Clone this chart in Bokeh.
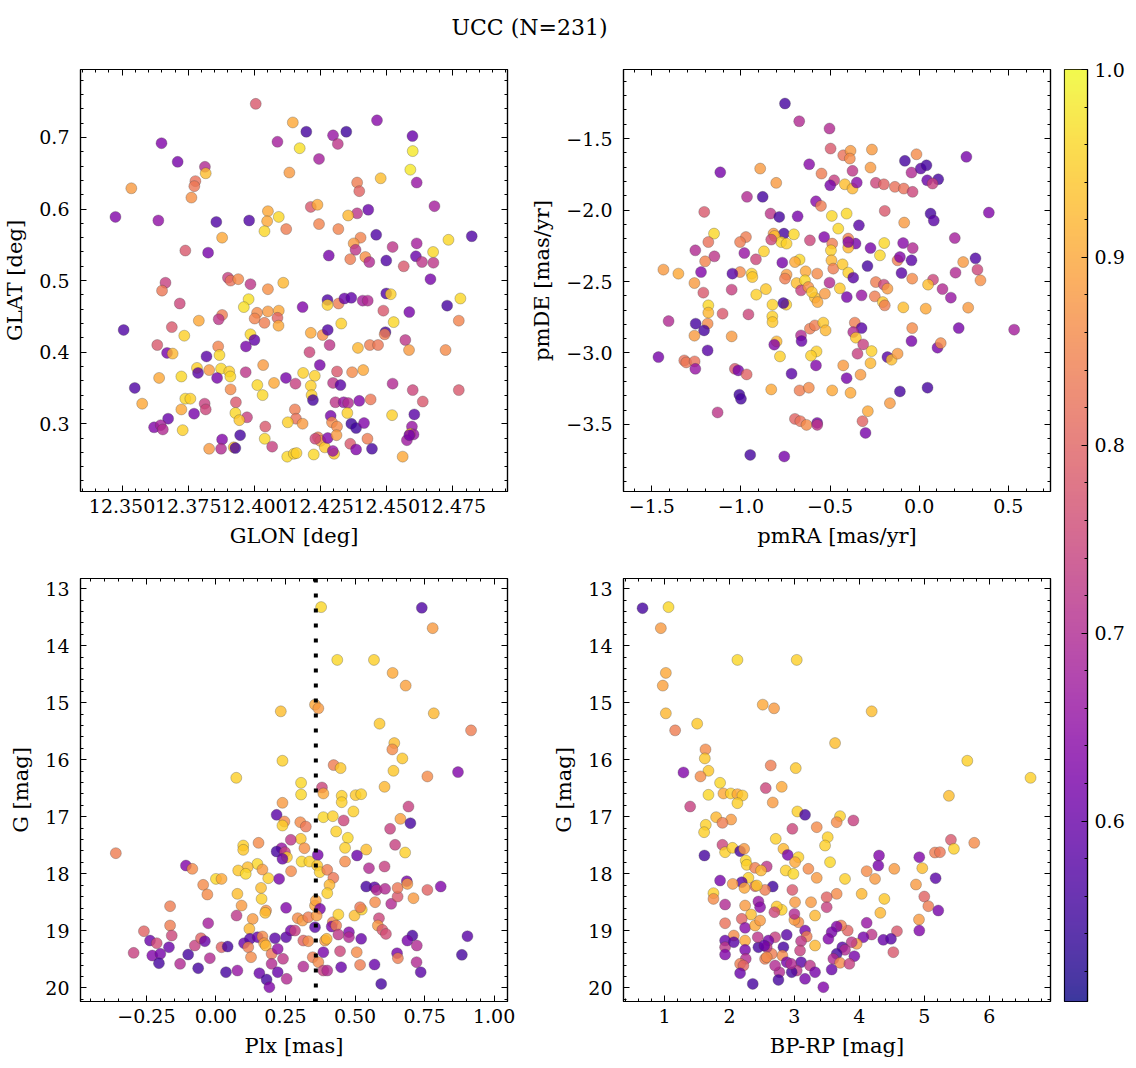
from bokeh.plotting import figure
from bokeh.models import (ColumnDataSource, LinearColorMapper, Range1d, LinearAxis,
                          SingleIntervalTicker, FixedTicker, CustomJSTickFormatter, Span, Label)
from bokeh.layouts import row, column
from bokeh.palettes import Plasma256
from bokeh.embed import file_html
from bokeh.resources import INLINE
import numpy as np

TITLE = "UCC (N=231)"
PLX_LINE = 0.359

# ---------------- panel 1 : GLON / GLAT ----------------
glon = [12.4005,12.4145,12.4463,12.4196,12.4297,12.4347,12.4315,12.4597,12.3649,12.4087,
12.4171,12.4598,12.3710,12.4244,12.3813,12.3816,12.4132,12.4589,12.4477,12.3777,
12.3773,12.3535,12.4613,12.4388,12.4396,12.3762,12.4213,12.4238,12.4680,12.4430,
12.4388,12.4354,12.4051,12.4092,12.4048,12.4038,12.4120,12.4244,12.4317,12.3475,
12.3637,12.3856,12.3980,12.3878,12.4460,12.4401,12.4375,12.4382,12.3739,12.3825,
12.4281,12.4362,12.4419,12.4434,12.4498,12.4522,12.4613,12.4610,12.4633,12.4676,
12.4675,12.4733,12.4821,12.4564,12.4665,12.3900,12.3910,12.3939,12.3664,12.3651,
12.3985,12.4051,12.4109,12.3718,12.3978,12.3960,12.4182,12.4276,12.4276,12.4318,
12.4340,12.4366,12.4409,12.4428,12.4498,12.4515,12.4778,12.4728,12.4487,12.4585,
12.4772,12.4526,12.4010,12.4051,12.4092,12.4001,12.4038,12.4087,12.4091,12.3878,
12.3865,12.3790,12.3506,12.3688,12.3735,12.3985,12.4000,12.3968,12.4213,12.4258,
12.4277,12.4328,12.4495,12.4492,12.4570,12.4284,12.4391,12.4436,12.4467,12.4584,
12.4722,12.3633,12.3670,12.3691,12.3819,12.3863,12.3868,12.4208,12.4247,12.4033,
12.3783,12.3787,12.3829,12.3874,12.3905,12.3909,12.3859,12.3640,12.3724,12.3967,
12.4184,12.4228,12.4119,12.4155,12.4074,12.4011,12.4031,12.3910,12.3548,12.3576,
12.3739,12.3758,12.3724,12.3812,12.3816,12.3772,12.3930,12.3928,12.3972,12.3943,
12.4213,12.4216,12.4221,12.4297,12.4325,12.4312,12.4369,12.4411,12.4522,12.4598,
12.4772,12.4636,12.4604,12.4520,12.4306,12.4337,12.4354,12.4396,12.4439,12.4351,
12.4153,12.4157,12.4126,12.4182,12.4288,12.4293,12.4312,12.4366,12.4384,12.4414,
12.4595,12.4589,12.4601,12.4576,12.3674,12.3621,12.3646,12.3654,12.3729,12.3946,
12.3878,12.4039,12.4041,12.3829,12.3874,12.3922,12.3928,12.4067,12.4124,12.4149,
12.4159,12.4224,12.4240,12.4249,12.4266,12.4277,12.4301,12.4296,12.4310,12.4362,
12.4384,12.4427,12.4444,12.4560,12.4585,12.4230]
glat = [0.747,0.721,0.724,0.708,0.703,0.708,0.691,0.702,0.692,0.694,
0.685,0.681,0.666,0.670,0.659,0.650,0.651,0.655,0.643,0.639,
0.632,0.629,0.637,0.637,0.625,0.616,0.603,0.606,0.604,0.599,
0.594,0.591,0.597,0.589,0.583,0.569,0.572,0.579,0.572,0.589,
0.584,0.582,0.584,0.560,0.564,0.560,0.552,0.543,0.542,0.539,
0.535,0.530,0.533,0.526,0.528,0.547,0.552,0.534,0.526,0.525,
0.540,0.557,0.562,0.520,0.502,0.504,0.500,0.502,0.497,0.486,
0.495,0.488,0.497,0.468,0.474,0.463,0.463,0.473,0.466,0.468,
0.475,0.476,0.472,0.472,0.482,0.481,0.475,0.465,0.458,0.456,
0.444,0.442,0.455,0.457,0.458,0.447,0.441,0.448,0.437,0.452,
0.446,0.444,0.431,0.435,0.423,0.425,0.417,0.408,0.427,0.424,
0.431,0.440,0.428,0.425,0.417,0.410,0.406,0.410,0.410,0.403,
0.403,0.410,0.399,0.398,0.394,0.408,0.396,0.400,0.382,0.382,
0.378,0.371,0.375,0.377,0.373,0.366,0.364,0.364,0.366,0.372,
0.371,0.367,0.364,0.356,0.357,0.354,0.340,0.348,0.350,0.328,
0.335,0.335,0.320,0.328,0.320,0.314,0.330,0.315,0.309,0.305,
0.353,0.340,0.333,0.357,0.354,0.373,0.372,0.375,0.356,0.347,
0.347,0.331,0.313,0.312,0.330,0.330,0.329,0.332,0.334,0.315,
0.320,0.307,0.302,0.300,0.311,0.302,0.296,0.300,0.294,0.301,
0.296,0.286,0.285,0.277,0.307,0.295,0.298,0.292,0.291,0.284,
0.278,0.279,0.296,0.265,0.265,0.267,0.266,0.268,0.254,0.258,
0.259,0.257,0.281,0.276,0.267,0.280,0.258,0.262,0.284,0.272,
0.264,0.279,0.265,0.254,0.284,0.279]
prob1 = [0.78,0.90,0.64,0.56,0.66,0.55,0.72,0.60,0.63,0.68,
0.97,0.98,0.62,0.68,0.70,0.93,0.88,0.98,0.93,0.82,
0.83,0.88,0.66,0.84,0.80,0.87,0.78,0.90,0.68,0.60,
0.72,0.92,0.90,0.96,0.90,0.96,0.84,0.85,0.85,0.63,
0.65,0.57,0.57,0.90,0.57,0.85,0.88,0.72,0.78,0.62,
0.62,0.84,0.87,0.70,0.57,0.72,0.68,0.60,0.72,0.72,
0.96,0.96,0.57,0.78,0.62,0.74,0.82,0.86,0.74,0.83,
0.72,0.87,0.92,0.75,0.97,0.97,0.63,0.57,0.95,0.84,
0.60,0.59,0.68,0.70,0.57,0.95,0.96,0.56,0.78,0.62,
0.85,0.96,0.86,0.88,0.90,0.85,0.84,0.80,0.90,0.84,
0.72,0.90,0.57,0.78,0.95,0.96,0.59,0.62,0.90,0.87,
0.57,0.95,0.56,0.84,0.72,0.72,0.92,0.84,0.83,0.88,
0.86,0.78,0.62,0.92,0.58,0.85,0.96,0.75,0.62,0.88,
0.95,0.58,0.88,0.96,0.95,0.96,0.62,0.90,0.96,0.72,
0.95,0.95,0.62,0.74,0.90,0.96,0.96,0.86,0.57,0.90,
0.96,0.95,0.90,0.74,0.75,0.62,0.78,0.96,0.74,0.94,
0.95,0.95,0.56,0.72,0.58,0.78,0.86,0.90,0.70,0.75,
0.78,0.78,0.58,0.95,0.72,0.66,0.70,0.63,0.83,0.95,
0.84,0.82,0.95,0.88,0.62,0.86,0.86,0.55,0.55,0.63,
0.66,0.95,0.66,0.67,0.60,0.63,0.68,0.70,0.95,0.56,
0.63,0.96,0.78,0.88,0.70,0.93,0.56,0.74,0.96,0.95,
0.95,0.96,0.84,0.88,0.94,0.63,0.94,0.66,0.88,0.78,
0.63,0.84,0.56,0.90,0.62,0.75]

# ---------------- panel 2 : pmRA / pmDE ----------------
pmra = [-0.753,-0.673,-0.503,-0.497,-0.426,-0.385,-0.389,-0.265,-0.273,-0.374,
-0.015,-0.080,-0.043,0.009,0.041,0.045,0.107,0.075,0.265,-0.617,
-1.116,-0.892,-0.802,-0.548,-0.477,-0.499,-0.417,-0.374,-0.350,-0.243,
-0.198,-0.136,-0.086,-0.037,-0.966,-0.878,-0.579,-0.551,-1.206,-0.834,
-0.785,-0.682,-0.490,-0.407,-0.454,-0.338,-0.193,-0.084,0.064,0.082,
0.391,0.200,0.316,0.247,0.327,0.344,0.204,0.078,0.050,0.131,
0.178,0.275,0.037,-0.089,-0.039,-0.043,-0.099,-0.121,-0.108,-0.036,
-0.090,-0.196,-0.220,-0.273,-0.290,-0.357,-0.398,-0.398,-0.533,-0.488,
-0.495,-0.492,-0.482,-0.430,-0.398,-0.370,-0.503,-0.445,-0.406,-0.323,
-0.243,-0.198,-0.178,-0.249,-0.204,-0.193,-0.613,-0.671,-0.697,-0.637,
-0.572,-0.688,-0.641,-0.663,-0.622,-0.585,-0.570,-0.529,-0.602,-0.817,
-0.759,-0.811,-0.774,-0.703,-0.830,-0.744,-0.972,-1.005,-0.981,-0.871,
-0.916,-0.768,-0.744,-0.753,-1.005,-1.048,-0.940,-0.936,-0.860,-0.914,
-1.052,-1.151,-1.183,-1.256,-1.149,-1.201,-1.224,-1.435,-1.351,-1.261,
-1.211,-1.183,-1.183,-1.187,-1.103,-1.254,-1.207,-1.261,-1.406,-1.187,
-1.463,-1.318,-1.307,-1.260,-1.256,-1.052,-0.958,-0.823,-0.824,-0.823,
-0.746,-0.762,-0.800,-0.813,-0.781,-1.034,-1.015,-0.968,-1.009,-1.000,
-1.131,-0.716,-0.830,-0.671,-0.619,-0.663,-0.660,-0.613,-0.585,-0.538,
-0.525,-0.576,-0.607,-0.579,-0.426,-0.407,-0.488,-0.385,-0.329,-0.361,
-0.323,-0.370,-0.355,-0.314,-0.346,-0.267,-0.273,-0.178,-0.155,-0.121,
-0.043,-0.039,0.103,0.121,0.222,0.533,-0.108,0.047,-0.164,-0.288,
-0.318,-0.301,-0.697,-0.667,-0.632,-0.572,-0.572,-0.948,-0.757,-0.398]
pmde = [-1.255,-1.379,-1.430,-1.570,-1.617,-1.586,-1.640,-1.577,-1.703,-1.726,
-1.610,-1.656,-1.738,-1.710,-1.687,-1.792,-1.785,-1.815,-1.628,-1.680,
-1.736,-1.710,-1.810,-1.745,-1.792,-1.827,-1.820,-1.850,-1.808,-1.810,
-1.820,-1.838,-1.850,-1.873,-1.908,-1.908,-1.939,-1.971,-2.013,-2.025,
-2.048,-2.044,-2.041,-2.025,-2.130,-2.107,-2.006,-2.088,-2.025,-2.074,
-2.018,-2.196,-2.338,-2.364,-2.417,-2.492,-2.438,-2.487,-2.522,-2.553,
-2.613,-2.683,-2.690,-2.681,-2.480,-2.352,-2.441,-2.352,-2.329,-2.266,
-2.231,-2.231,-2.317,-2.266,-2.392,-2.235,-2.200,-2.263,-2.189,-2.235,
-2.282,-2.352,-2.410,-2.380,-2.438,-2.473,-2.508,-2.548,-2.609,-2.597,
-2.504,-2.522,-2.550,-2.604,-2.644,-2.667,-2.212,-2.347,-2.364,-2.429,
-2.445,-2.511,-2.492,-2.562,-2.539,-2.613,-2.644,-2.585,-2.574,-2.165,
-2.165,-2.182,-2.224,-2.170,-2.207,-2.235,-2.189,-2.224,-2.301,-2.289,
-2.345,-2.368,-2.452,-2.480,-2.434,-2.445,-2.445,-2.469,-2.553,-2.592,
-2.557,-2.165,-2.224,-2.282,-2.324,-2.359,-2.434,-2.417,-2.445,-2.511,
-2.578,-2.667,-2.718,-2.795,-2.725,-2.795,-2.842,-2.879,-2.777,-2.982,
-3.029,-3.052,-3.066,-3.059,-3.111,-2.884,-2.730,-2.662,-2.744,-2.784,
-2.662,-2.651,-2.919,-2.942,-3.024,-3.111,-3.122,-3.150,-3.292,-3.321,
-3.416,-3.145,-3.255,-3.262,-3.243,-2.877,-2.917,-2.830,-2.807,-2.788,
-2.842,-2.989,-3.019,-3.087,-3.087,-3.176,-3.262,-3.279,-3.152,-2.788,
-2.826,-2.854,-2.893,-2.940,-3.005,-2.987,-3.071,-3.029,-3.047,-3.005,
-2.917,-2.826,-2.963,-2.931,-2.826,-2.837,-3.269,-3.243,-3.351,-3.407,
-3.477,-3.559,-3.461,-3.477,-3.503,-3.489,-3.503,-3.713,-3.724,-2.224]
prob2 = [0.56,0.70,0.70,0.78,0.82,0.88,0.86,0.88,0.88,0.72,
0.86,0.56,0.70,0.58,0.56,0.60,0.56,0.74,0.62,0.64,
0.62,0.88,0.88,0.84,0.74,0.62,0.93,0.92,0.64,0.75,
0.80,0.82,0.82,0.75,0.70,0.56,0.64,0.84,0.78,0.72,
0.56,0.62,0.96,0.96,0.96,0.58,0.78,0.88,0.56,0.58,
0.63,0.68,0.57,0.88,0.75,0.87,0.70,0.75,0.93,0.70,
0.66,0.88,0.90,0.93,0.86,0.58,0.58,0.84,0.63,0.70,
0.64,0.96,0.96,0.62,0.56,0.62,0.85,0.92,0.63,0.84,
0.95,0.92,0.84,0.94,0.95,0.58,0.70,0.94,0.62,0.66,
0.84,0.75,0.88,0.84,0.94,0.84,0.75,0.96,0.90,0.90,
0.86,0.93,0.96,0.74,0.87,0.93,0.90,0.88,0.94,0.88,
0.56,0.93,0.96,0.96,0.75,0.95,0.84,0.84,0.66,0.95,
0.75,0.62,0.88,0.84,0.86,0.58,0.95,0.94,0.94,0.95,
0.74,0.96,0.82,0.70,0.72,0.85,0.63,0.88,0.90,0.88,
0.78,0.96,0.92,0.86,0.78,0.56,0.56,0.88,0.70,0.58,
0.62,0.82,0.83,0.82,0.66,0.88,0.75,0.95,0.95,0.94,
0.95,0.56,0.92,0.63,0.95,0.78,0.62,0.80,0.55,0.56,
0.72,0.58,0.90,0.84,0.86,0.70,0.60,0.84,0.84,0.94,
0.92,0.95,0.95,0.63,0.88,0.62,0.90,0.90,0.88,0.84,
0.58,0.70,0.94,0.74,0.74,0.95,0.92,0.58,0.93,0.88,
0.62,0.86,0.62,0.86,0.62,0.68,0.56,0.56,0.88,0.90,
0.80,0.62,0.80,0.82,0.86,0.62,0.72,0.56,0.62,0.64]

# ---------------- panel 3 : Plx / G ----------------
plx = [0.378,0.740,0.779,0.436,0.568,0.635,0.682,0.356,0.368,0.233,
0.783,0.588,0.917,0.641,0.634,0.670,0.638,0.760,0.870,0.239,
0.423,0.448,0.073,0.306,0.381,0.386,0.306,0.452,0.502,0.522,
0.606,0.239,0.452,0.692,0.218,0.246,0.239,0.386,0.420,0.494,
0.459,0.303,0.323,0.663,0.699,0.626,0.644,0.680,0.432,0.474,
0.464,0.540,0.507,0.464,0.305,0.318,0.269,0.236,0.218,0.248,
0.255,0.239,0.153,0.098,0.098,0.308,0.336,0.366,0.364,0.373,
0.400,0.422,0.408,0.400,0.270,0.227,0.188,0.149,0.167,0.114,
0.080,0.107,0.000,0.020,-0.108,-0.085,-0.046,-0.031,-0.360,0.162,
0.164,0.077,0.092,0.074,0.180,0.177,0.252,0.132,0.120,-0.165,
-0.165,-0.259,-0.159,-0.237,-0.213,-0.296,-0.229,-0.200,-0.205,-0.169,
-0.129,-0.100,-0.076,-0.054,-0.040,-0.028,-0.064,-0.022,0.020,0.042,
0.036,0.077,0.101,0.122,0.116,0.126,0.156,0.182,0.192,0.150,
0.167,0.173,0.179,0.212,0.200,0.200,0.222,0.222,0.241,0.254,
0.252,0.269,0.284,0.314,0.332,0.314,0.294,0.311,0.332,0.356,
0.359,0.374,0.362,0.356,0.348,0.368,0.386,0.400,0.386,0.392,
0.398,0.420,0.416,0.432,0.440,0.440,0.446,0.450,0.478,0.478,
0.498,0.524,0.518,0.506,0.518,0.522,0.570,0.594,0.550,0.606,
0.540,0.570,0.578,0.608,0.572,0.630,0.653,0.653,0.686,0.688,
0.710,0.760,0.808,0.586,0.582,0.598,0.611,0.706,0.688,0.722,
0.651,0.654,0.721,0.736,0.904,0.884]
g3 = [13.322,13.334,13.691,14.248,14.248,14.476,14.699,15.033,15.097,15.150,
15.185,15.367,15.484,15.707,15.818,15.976,16.193,16.292,16.216,16.017,
16.093,16.146,16.316,16.404,16.486,16.591,16.609,16.632,16.620,16.603,
16.474,16.755,16.744,16.820,16.966,17.083,17.153,17.007,16.989,16.907,
17.065,17.095,17.171,17.036,17.112,17.211,17.492,17.627,17.258,17.369,
17.545,17.574,17.679,17.785,17.387,17.551,17.404,17.551,17.609,17.621,
17.709,17.738,17.457,17.504,17.580,17.785,17.785,17.668,17.855,17.972,
17.931,18.071,18.194,18.340,17.954,18.089,18.077,17.826,17.925,17.884,
17.942,18.001,18.089,18.089,17.855,17.913,18.194,18.363,17.638,18.247,
18.440,18.352,18.557,18.732,18.644,18.685,18.597,18.791,18.966,18.568,
18.907,19.007,19.083,19.171,19.217,19.387,19.434,19.404,19.568,19.288,
19.580,19.416,19.258,19.130,19.182,18.867,19.656,19.480,19.288,19.276,
19.726,19.697,19.217,19.141,19.288,19.463,19.744,19.855,19.989,19.112,
19.100,19.217,19.258,19.130,19.404,19.580,19.726,19.317,19.492,19.843,
19.112,18.995,18.995,19.171,19.182,19.627,18.779,18.820,18.761,18.557,
18.469,18.615,18.732,18.937,19.463,19.550,19.697,19.697,19.375,19.171,
19.141,18.849,18.925,18.907,18.714,19.065,19.358,19.638,19.024,19.112,
18.732,18.627,18.586,19.375,19.598,19.141,19.592,19.931,17.901,17.872,
18.223,18.235,18.282,18.264,18.498,18.527,18.399,18.247,18.130,18.177,
18.428,18.282,18.223,18.779,18.907,18.983,19.054,19.083,19.171,19.258,
19.393,19.480,19.550,19.726,19.095,19.422]
prob3 = [0.96,0.57,0.88,0.96,0.95,0.90,0.89,0.90,0.88,0.93,
0.92,0.94,0.84,0.93,0.86,0.94,0.94,0.86,0.63,0.95,
0.84,0.94,0.95,0.96,0.75,0.90,0.96,0.95,0.94,0.95,
0.92,0.88,0.95,0.74,0.58,0.86,0.95,0.96,0.95,0.95,
0.75,0.86,0.83,0.89,0.56,0.74,0.74,0.95,0.95,0.96,
0.95,0.93,0.60,0.86,0.94,0.87,0.72,0.66,0.56,0.74,
0.94,0.60,0.86,0.95,0.94,0.96,0.95,0.62,0.94,0.95,
0.84,0.83,0.92,0.95,0.86,0.62,0.95,0.96,0.88,0.93,
0.94,0.96,0.96,0.90,0.63,0.86,0.86,0.86,0.84,0.93,
0.95,0.93,0.88,0.72,0.87,0.93,0.63,0.88,0.92,0.84,
0.84,0.80,0.75,0.60,0.76,0.74,0.63,0.62,0.56,0.60,
0.70,0.56,0.74,0.80,0.60,0.68,0.56,0.70,0.80,0.56,
0.56,0.66,0.60,0.58,0.84,0.86,0.60,0.56,0.63,0.60,
0.86,0.88,0.92,0.58,0.83,0.70,0.60,0.65,0.72,0.70,
0.58,0.62,0.74,0.80,0.86,0.70,0.86,0.88,0.84,0.90,
0.89,0.62,0.88,0.58,0.84,0.86,0.74,0.70,0.62,0.88,
0.92,0.86,0.62,0.84,0.95,0.72,0.75,0.60,0.63,0.70,
0.93,0.95,0.83,0.86,0.84,0.60,0.60,0.56,0.70,0.74,
0.56,0.58,0.70,0.70,0.86,0.70,0.78,0.83,0.62,0.88,
0.88,0.80,0.63,0.75,0.88,0.78,0.76,0.56,0.62,0.70,
0.62,0.84,0.70,0.58,0.58,0.56]

# ---------------- panel 4 : BP-RP / G ----------------
bprp = [0.662,1.062,0.944,2.123,3.036,1.021,0.974,2.513,2.687,1.021,
4.190,1.503,1.164,3.626,1.631,1.621,1.677,2.636,3.021,5.662,
6.636,1.292,1.554,1.856,2.559,2.805,1.677,1.908,2.021,2.123,
2.200,5.379,2.667,2.123,1.395,3.046,3.164,3.703,3.651,3.908,
1.795,2.026,1.892,1.636,1.610,3.344,2.969,3.513,3.472,2.713,
2.831,2.897,3.062,3.010,1.892,1.933,2.046,2.164,2.226,1.615,
2.251,2.267,2.395,2.574,2.487,2.867,2.985,3.215,3.344,3.549,
3.779,4.113,4.241,4.292,4.303,4.538,4.923,4.969,5.164,5.241,
5.410,5.456,5.769,5.174,4.872,5.000,5.062,5.215,4.918,4.923,
4.385,4.036,4.323,4.579,4.523,4.369,4.487,4.190,4.113,4.062,
3.959,3.882,3.923,3.821,3.718,3.651,3.574,3.523,3.738,3.779,
3.651,3.600,3.703,3.846,3.574,3.446,3.651,3.497,3.497,3.318,
3.256,3.318,3.164,3.190,3.103,3.087,3.103,3.241,3.318,3.164,
3.036,2.959,3.062,3.000,3.000,3.010,2.969,2.805,2.728,2.692,
2.882,2.831,2.815,2.882,2.949,2.769,2.754,2.703,2.651,2.549,
2.600,2.574,2.446,2.667,2.549,2.395,2.292,2.190,2.231,2.051,
1.856,1.754,1.754,1.933,2.241,2.446,2.472,2.333,2.190,2.241,
2.395,2.472,1.933,2.067,2.241,1.933,1.933,1.933,2.241,2.251,
2.164,2.215,2.164,2.359,2.436,2.574,2.703,2.538,2.067,2.421]
g4 = [13.340,13.322,13.691,14.248,14.248,14.476,14.699,15.033,15.097,15.185,
15.150,15.367,15.484,15.707,15.818,15.976,16.193,16.099,16.146,16.017,
16.316,16.222,16.292,16.404,16.497,16.474,16.615,16.591,16.591,16.603,
16.626,16.632,16.749,16.761,16.820,16.907,16.966,16.989,17.095,17.065,
17.007,17.048,17.106,17.141,17.270,17.182,17.211,17.358,17.504,17.387,
17.562,17.668,17.709,17.796,17.492,17.621,17.545,17.603,17.562,17.679,
17.767,17.843,17.896,17.872,17.942,17.942,18.001,17.913,18.071,17.796,
18.089,17.954,18.089,17.855,17.679,17.913,17.709,17.901,17.627,17.621,
17.404,17.562,17.457,18.077,18.188,18.399,18.568,18.644,18.802,18.995,
18.440,18.352,18.685,19.007,19.375,19.159,19.141,19.065,18.860,19.112,
19.229,19.200,19.445,18.995,18.907,18.925,19.024,19.141,19.288,19.334,
19.404,19.492,19.562,19.580,19.679,19.989,18.352,18.410,18.586,18.732,
18.498,19.258,18.995,19.100,19.182,19.346,19.550,19.609,19.726,19.843,
19.697,19.726,18.849,18.808,18.703,18.498,18.282,18.632,18.574,18.673,
19.071,19.288,19.434,19.550,19.580,19.726,19.861,19.112,19.404,19.492,
19.171,19.288,19.288,18.223,18.282,18.217,18.071,18.147,18.247,18.177,
18.118,18.340,18.440,18.539,18.557,18.486,18.586,18.714,18.790,18.948,
18.907,18.820,18.867,19.083,19.171,19.171,19.288,19.416,19.334,19.492,
19.580,19.609,19.744,19.931,19.112,19.463,19.609,19.258,19.200,18.205]
prob4 = [0.56,0.96,0.88,0.96,0.95,0.90,0.89,0.90,0.88,0.92,
0.93,0.94,0.84,0.93,0.86,0.94,0.94,0.84,0.94,0.95,
0.95,0.63,0.86,0.96,0.75,0.90,0.96,0.90,0.95,0.90,
0.94,0.93,0.88,0.95,0.74,0.95,0.56,0.95,0.86,0.74,
0.92,0.88,0.84,0.95,0.95,0.86,0.75,0.95,0.95,0.95,
0.92,0.62,0.95,0.90,0.75,0.95,0.95,0.56,0.88,0.56,
0.96,0.95,0.84,0.72,0.92,0.95,0.96,0.86,0.88,0.96,
0.95,0.86,0.88,0.62,0.63,0.88,0.63,0.93,0.84,0.83,
0.78,0.95,0.86,0.58,0.88,0.80,0.84,0.62,0.88,0.63,
0.94,0.92,0.92,0.78,0.78,0.60,0.58,0.72,0.66,0.62,
0.88,0.72,0.62,0.80,0.84,0.63,0.62,0.63,0.58,0.70,
0.56,0.70,0.86,0.74,0.60,0.63,0.86,0.80,0.74,0.92,
0.88,0.92,0.62,0.84,0.72,0.74,0.58,0.72,0.62,0.62,
0.72,0.56,0.86,0.88,0.70,0.88,0.78,0.95,0.94,0.75,
0.58,0.56,0.86,0.62,0.70,0.70,0.56,0.74,0.84,0.84,
0.62,0.72,0.56,0.55,0.84,0.80,0.95,0.58,0.90,0.88,
0.62,0.95,0.86,0.70,0.88,0.66,0.64,0.93,0.80,0.64,
0.90,0.88,0.82,0.86,0.90,0.60,0.72,0.63,0.62,0.70,
0.84,0.80,0.60,0.56,0.72,0.86,0.70,0.60,0.58,0.94]

CB_TICKS = [0.6, 0.7, 0.8, 0.9, 1.0]
CB_MINOR = [0.52, 0.54, 0.56, 0.58, 0.62, 0.64, 0.66, 0.68, 0.72, 0.74, 0.76, 0.78,
            0.82, 0.84, 0.86, 0.88, 0.92, 0.94, 0.96, 0.98]

# ---------------- styling ----------------
FONT = "DejaVu Serif"
TICK_FS = "19px"
LABEL_FS = "21px"
VMIN, VMAX = 0.504, 1.0
mapper = LinearColorMapper(palette=Plasma256, low=VMIN, high=VMAX)


def fmt(dec):
    return CustomJSTickFormatter(code="""
        const v = Math.abs(tick) < 1e-9 ? 0 : tick;
        return v.toFixed(%d).replace('-', '\\u2212');
    """ % dec)


def style_axis(ax, interval, dec, show=True, label_standoff=8, axis_label_standoff=4):
    ax.ticker = SingleIntervalTicker(interval=interval, num_minor_ticks=5)
    ax.formatter = fmt(dec) if show else CustomJSTickFormatter(code="return '';")
    ax.major_tick_in = 6
    ax.major_tick_out = 0
    ax.minor_tick_in = 3
    ax.minor_tick_out = 0
    ax.axis_line_color = "black"
    ax.axis_line_width = 1.2
    ax.major_tick_line_color = "black"
    ax.minor_tick_line_color = "black"
    ax.major_tick_line_width = 1
    ax.minor_tick_line_width = 1
    ax.major_label_text_font = FONT
    ax.major_label_text_color = "black"
    ax.axis_label_text_font = FONT
    ax.axis_label_text_font_size = LABEL_FS
    ax.axis_label_text_font_style = "normal"
    ax.axis_label_text_color = "black"
    if show:
        ax.major_label_text_font_size = TICK_FS
        ax.major_label_standoff = label_standoff
        ax.axis_label_standoff = axis_label_standoff
    else:
        ax.major_label_text_font_size = "0px"
        ax.major_label_standoff = 0


def panel(x, y, p, xr, yr, xint, yint, xdec, ydec, xlabel, ylabel,
          fh, left, right, top, bottom):
    n = min(len(x), len(y), len(p))
    src = ColumnDataSource(dict(x=x[:n], y=y[:n], p=p[:n]))
    f = figure(frame_width=427, frame_height=fh,
               x_range=Range1d(*xr), y_range=Range1d(*yr),
               output_backend="svg", toolbar_location=None,
               min_border_left=left, min_border_right=right,
               min_border_top=top, min_border_bottom=bottom,
               background_fill_color="white", border_fill_color="white")
    f.outline_line_color = "black"
    f.outline_line_width = 1.2
    f.xgrid.visible = False
    f.ygrid.visible = False
    style_axis(f.xaxis[0], xint, xdec, True, label_standoff=7, axis_label_standoff=8)
    style_axis(f.yaxis[0], yint, ydec, True, label_standoff=11, axis_label_standoff=9)
    f.xaxis[0].axis_label = xlabel
    f.yaxis[0].axis_label = ylabel
    top_ax = LinearAxis()
    right_ax = LinearAxis()
    style_axis(top_ax, xint, xdec, False)
    style_axis(right_ax, yint, ydec, False)
    f.add_layout(top_ax, "above")
    f.add_layout(right_ax, "right")
    f.scatter(x="x", y="y", source=src, size=11,
              fill_color={"field": "p", "transform": mapper}, fill_alpha=0.8,
              line_color="#404040", line_alpha=0.5, line_width=0.6)
    return f


G_RANGE = (20.24, 12.82)

f1 = panel(glon, glat, prob1, (12.3343, 12.4956), (0.2053, 0.795), 0.025, 0.1, 3, 1,
           "GLON [deg]", "GLAT [deg]", 422, 80, 10, 9, 78)
f2 = panel(pmra, pmde, prob2, (-1.659, 0.737), (-3.969, -1.017), 0.5, 0.5, 1, 1,
           "pmRA [mas/yr]", "pmDE [mas/yr]", 422, 106, 6, 9, 78)
f3 = panel(plx, g3, prob3, (-0.487, 1.048), G_RANGE, 0.25, 1, 2, 0,
           "Plx [mas]", "G [mag]", 423, 80, 10, 9, 67)
f4 = panel(bprp, g4, prob4, (0.369, 6.943), G_RANGE, 1, 1, 0, 0,
           "BP-RP [mag]", "G [mag]", 423, 106, 6, 9, 67)

f3.add_layout(Span(location=PLX_LINE, dimension="height", line_color="black",
                   line_width=4, line_dash="4 11"))

# ---------------- colorbar ----------------
cb = figure(frame_width=23, frame_height=932, x_range=Range1d(0, 1),
            y_range=Range1d(VMIN, VMAX), x_axis_location=None, y_axis_location="right",
            output_backend="svg", toolbar_location=None,
            min_border_left=8, min_border_right=49, min_border_top=9, min_border_bottom=67,
            background_fill_color="white", border_fill_color="white")
cb.xgrid.visible = False
cb.ygrid.visible = False
cb.outline_line_color = "black"
cb.outline_line_width = 1.2
grad = np.linspace(VMIN, VMAX, 256).reshape(256, 1)
cb.image(image=[grad], x=0, y=VMIN, dw=1, dh=VMAX - VMIN, color_mapper=mapper,
         global_alpha=0.8)
cax = cb.yaxis[0]
cax.ticker = FixedTicker(ticks=CB_TICKS, minor_ticks=CB_MINOR)
cax.formatter = fmt(1)
cax.major_tick_in = 6
cax.major_tick_out = 0
cax.minor_tick_in = 3
cax.minor_tick_out = 0
cax.axis_line_color = "black"
cax.axis_line_width = 1.2
cax.major_label_text_font = FONT
cax.major_label_text_font_size = TICK_FS
cax.major_label_text_color = "black"
cax.major_label_standoff = 7

# ---------------- title ----------------
tf = figure(width=1136, height=60, x_axis_location=None, y_axis_location=None,
            x_range=Range1d(0, 1), y_range=Range1d(0, 1),
            output_backend="svg", toolbar_location=None, min_border=0,
            background_fill_color="white", border_fill_color="white")
tf.outline_line_color = None
tf.xgrid.visible = False
tf.ygrid.visible = False
tf.add_layout(Label(x=529, y=33, x_units="screen", y_units="screen", text=TITLE,
                    text_align="center", text_baseline="alphabetic",
                    text_font=FONT, text_font_size="22px", text_color="black"))

layout = column(tf, row(column(row(f1, f2), row(f3, f4)), cb))

open("out.html", "w").write(file_html(layout, INLINE))
